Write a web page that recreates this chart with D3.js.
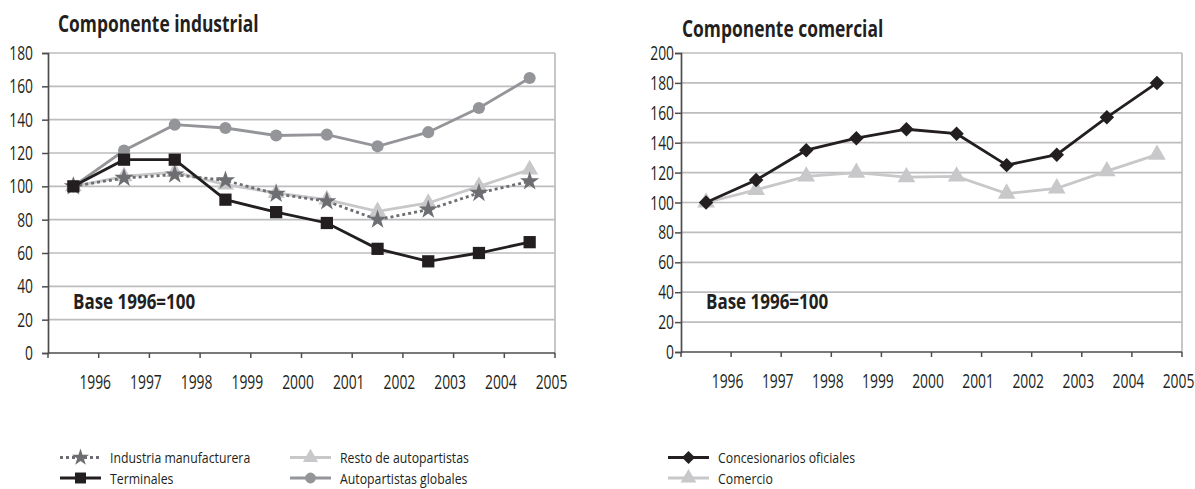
<!DOCTYPE html>
<html><head><meta charset="utf-8">
<script src="https://cdn.jsdelivr.net/npm/d3@7"></script>
<style>
body{margin:0;background:#fff;}
text{font-family:"Open Sans","Liberation Sans",sans-serif;fill:#231f20;}
</style></head>
<body>
<svg id="c" width="1195" height="489"></svg>
<script>
const years = ["1996","1997","1998","1999","2000","2001","2002","2003","2004","2005"];
const leftTicks = [0,20,40,60,80,100,120,140,160,180];
const rightTicks = [0,20,40,60,80,100,120,140,160,180,200];

const industria = [100,105,107,103.5,95.5,91,80,86,96,103];
const terminales = [100,116,116,92,84.5,78,62.5,55,60,66.5];
const resto = [100,106,108.5,101,96,92,85,90,100,110];
const globales = [100,121.5,137,135,130.5,131,124,132.5,147,165];
const concesionarios = [100,115,135,143,149,146,125,132,157,180];
const comercio = [100,108.5,117.5,120,117,117.5,106,109.5,121,132];

const svg = d3.select("#c");

// condensed text helper (horizontal compression emulates a condensed face)
function txt(parent, x, y, str, o){
  o = o || {};
  const g = parent.append("g").attr("transform", `translate(${x},${y}) scale(${o.sx||0.78},1)`);
  return g.append("text").attr("text-anchor", o.anchor||"start")
    .attr("font-size", o.size||18).attr("font-weight", o.weight||null).text(str);
}

function panel(cfg){
  const g = svg.append("g");
  const x = d3.scaleBand().domain(years).range([cfg.x0, cfg.x1]);
  const y = d3.scaleLinear().domain([0, cfg.ymax]).range([cfg.y0, cfg.y1]);
  g.selectAll(".grid").data(cfg.ticks.filter(t=>t>0)).enter().append("line")
    .attr("x1", cfg.x0).attr("x2", cfg.x1)
    .attr("y1", d=>y(d)).attr("y2", d=>y(d))
    .attr("stroke", "#bdbdc0").attr("stroke-width", 1.7);
  g.append("line").attr("x1", cfg.x1).attr("x2", cfg.x1).attr("y1", y(cfg.ymax)).attr("y2", cfg.y0)
    .attr("stroke", "#bdbdc0").attr("stroke-width", 1.7);
  const ya = d3.axisLeft(y).tickValues(cfg.ticks).tickSize(6).tickFormat("");
  const yg = g.append("g").attr("transform", `translate(${cfg.x0},0)`).call(ya);
  yg.select(".domain").attr("stroke", "#4d4d4f").attr("stroke-width", 1.7);
  yg.selectAll(".tick line").attr("stroke", "#4d4d4f").attr("stroke-width", 1.5);
  cfg.ticks.forEach(t=>{
    txt(g, cfg.x0 - cfg.ypad, y(t)+7, String(t), {anchor:"end", size:19.5, sx:0.71});
  });
  g.append("line").attr("x1", cfg.x0).attr("x2", cfg.x1).attr("y1", cfg.y0).attr("y2", cfg.y0)
    .attr("stroke", "#4d4d4f").attr("stroke-width", 1.7);
  const bounds = years.map(d=>x(d)).concat([cfg.x1]);
  g.selectAll(".xt").data(bounds).enter().append("line")
    .attr("x1", d=>d).attr("x2", d=>d).attr("y1", cfg.y0).attr("y2", cfg.y0+5)
    .attr("stroke", "#4d4d4f").attr("stroke-width", 1.5);
  years.forEach(d=>{
    txt(g, x(d)+x.bandwidth()-3.5, cfg.y0+35.5, d, {anchor:"middle", size:19.5, sx:0.71});
  });
  txt(g, cfg.titleX, cfg.titleY, cfg.title, {size:24, weight:"bold", sx:cfg.titleSx});
  txt(g, cfg.x0+25, 308.5, "Base 1996=100", {size:21.5, weight:"bold", sx:0.79});
  const cx = d=>x(d)+x.bandwidth()/2;
  cfg.series.forEach(s=>{
    const line = d3.line().x((v,i)=>cx(years[i])).y(v=>y(v));
    g.append("path").datum(s.values).attr("d", line).attr("fill","none")
      .attr("stroke", s.color).attr("stroke-width", s.width||2.8)
      .attr("stroke-dasharray", s.dash||null);
    g.selectAll(null).data(s.values).enter().append("path")
      .attr("transform", (v,i)=>`translate(${cx(years[i])},${y(v)})${s.rot?` rotate(${s.rot})`:""}`)
      .attr("d", d3.symbol().type(s.symbol).size(s.size))
      .attr("fill", s.mcolor||s.color);
  });
}

const S = {
  industria:{name:"Industria manufacturera", values:industria, color:"#6d6e71", dash:"3,3", symbol:d3.symbolStar, size:115},
  terminales:{name:"Terminales", values:terminales, color:"#231f20", symbol:d3.symbolSquare, size:150},
  resto:{name:"Resto de autopartistas", values:resto, color:"#c8c8ca", symbol:d3.symbolTriangle, size:125},
  globales:{name:"Autopartistas globales", values:globales, color:"#939598", symbol:d3.symbolCircle, size:115},
  concesionarios:{name:"Concesionarios oficiales", values:concesionarios, color:"#231f20", symbol:d3.symbolSquare, size:105, rot:45},
  comercio:{name:"Comercio", values:comercio, color:"#c8c8ca", symbol:d3.symbolTriangle, size:135}
};

panel({x0:48, x1:555, y0:353, y1:53, ymax:180, ticks:leftTicks, ypad:15, title:"Componente industrial", titleX:58, titleY:32, titleSx:0.725,
  series:[S.globales, S.resto, S.industria, S.terminales]});
panel({x0:681, x1:1182, y0:352, y1:53, ymax:200, ticks:rightTicks, ypad:7, title:"Componente comercial", titleX:682, titleY:37, titleSx:0.725,
  series:[S.comercio, S.concesionarios]});

function legendItem(s, lx, ly){
  const g = svg.append("g");
  g.append("line").attr("x1", lx).attr("x2", lx+41).attr("y1", ly).attr("y2", ly)
    .attr("stroke", s.color).attr("stroke-width", 2.8).attr("stroke-dasharray", s.dash||null);
  g.append("path").attr("transform", `translate(${lx+20.5},${ly})${s.rot?` rotate(${s.rot})`:""}`)
    .attr("d", d3.symbol().type(s.symbol).size(s.size*0.8)).attr("fill", s.color);
  txt(g, lx+50, ly+5.5, s.name, {size:15, sx:0.82});
}
legendItem(S.industria, 60, 457.5);
legendItem(S.terminales, 60, 478);
legendItem(S.resto, 290, 457.5);
legendItem(S.globales, 290, 478);
legendItem(S.concesionarios, 668, 457.5);
legendItem(S.comercio, 668, 478);
</script>
</body></html>
